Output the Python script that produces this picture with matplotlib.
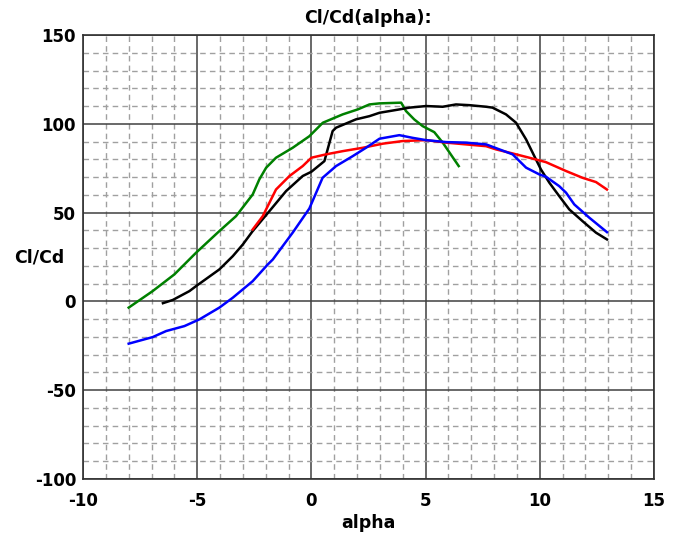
import matplotlib
matplotlib.use("Agg")
import matplotlib.pyplot as plt
from matplotlib.ticker import MultipleLocator

plt.rcParams['font.family'] = ['DejaVu Sans']
plt.rcParams['axes.unicode_minus'] = False

green_x = [-8.0, -6.95, -6.0, -5.05, -4.03, -3.3, -2.57, -2.28, -1.98, -1.55, -0.82, -0.09, 0.5, 1.37, 2.03, 2.54, 2.98, 3.93, 4.14, 4.5, 4.87, 5.38, 5.75, 6.45]
green_y = [-3.5, 5.8, 15.2, 27.4, 39.6, 48.0, 60.2, 68.7, 75.3, 80.9, 86.5, 93.0, 100.6, 105.3, 108.1, 110.9, 111.5, 111.9, 107.2, 102.5, 98.7, 95.3, 89.4, 76.2]

black_x = [-6.5, -6.07, -5.34, -5.05, -4.03, -3.44, -3.0, -2.57, -1.84, -1.11, -0.38, 0.0, 0.57, 0.93, 1.08, 1.95, 2.54, 2.98, 3.85, 4.29, 5.02, 5.75, 6.33, 6.91, 7.65, 7.93, 8.52, 8.96, 9.4, 9.76, 10.05, 10.42, 10.85, 11.29, 11.87, 12.46, 12.94]
black_y = [-1.0, 0.8, 5.8, 8.6, 18.0, 25.5, 32.1, 39.6, 50.8, 62.1, 70.6, 73.0, 79.0, 95.9, 97.8, 102.5, 104.3, 106.2, 108.1, 109.1, 110.0, 109.6, 110.9, 110.5, 109.6, 109.1, 105.3, 100.6, 91.2, 81.8, 74.3, 66.8, 59.3, 51.8, 45.2, 38.7, 34.9]

red_x = [-2.57, -2.13, -1.55, -0.96, -0.38, 0.0, 0.64, 1.37, 2.25, 3.12, 4.0, 5.02, 5.9, 6.77, 7.65, 8.08, 8.81, 9.54, 10.27, 11.15, 11.87, 12.46, 12.94]
red_y = [40.5, 48.0, 63.0, 70.6, 76.2, 80.9, 82.8, 84.6, 86.5, 88.8, 90.3, 90.8, 89.4, 88.4, 87.4, 85.6, 83.3, 80.9, 78.4, 73.4, 69.6, 67.2, 63.0]

blue_x = [-8.0, -6.95, -6.36, -5.56, -4.9, -4.03, -3.44, -2.57, -1.91, -1.69, -0.82, -0.09, 0.49, 1.08, 1.81, 2.39, 2.98, 3.85, 4.43, 5.02, 5.9, 6.77, 7.65, 8.23, 8.81, 9.4, 9.98, 10.27, 10.85, 11.15, 11.51, 12.17, 12.94]
blue_y = [-23.8, -20.1, -16.7, -13.9, -10.1, -3.5, 2.1, 11.4, 20.8, 23.6, 38.7, 52.3, 69.6, 76.2, 81.8, 86.5, 91.6, 93.6, 92.1, 90.8, 89.7, 89.4, 88.4, 85.6, 82.8, 75.3, 71.5, 70.2, 64.9, 61.2, 54.6, 47.1, 39.0]

x_ticks = [-10, -5, 0, 5, 10, 15]
y_ticks = [-100, -50, 0, 50, 100, 150]

fig = plt.figure(figsize=(6.78, 5.35), dpi=100)
ax = fig.add_axes([83/678, 1-479/535, (654-83)/678, (479-35)/535])

ax.set_xlim(-10, 15)
ax.set_ylim(-100, 150)
ax.set_xticks(x_ticks)
ax.set_yticks(y_ticks)
ax.xaxis.set_minor_locator(MultipleLocator(1))
ax.yaxis.set_minor_locator(MultipleLocator(10))
ax.grid(which='major', color='#404040', linestyle='-', linewidth=1.1)
ax.grid(which='minor', color='#a0a0a0', linestyle=(0, (4, 3)), linewidth=1.0)
ax.set_axisbelow(True)
ax.tick_params(which='both', length=0)
ax.tick_params(axis='x', pad=9)
ax.tick_params(axis='y', pad=5)
for lbl in ax.get_xticklabels() + ax.get_yticklabels():
    lbl.set_fontweight('bold')
    lbl.set_fontsize(12)
for sp in ax.spines.values():
    sp.set_color('#303030')
    sp.set_linewidth(1.2)

lw = 1.8
ax.plot(green_x, green_y, color='#008000', lw=lw)
ax.plot(black_x, black_y, color='#000000', lw=lw)
ax.plot(red_x, red_y, color='#ff0000', lw=lw)
ax.plot(blue_x, blue_y, color='#0000ff', lw=lw)

fig.text(368/678, 1-18/535, 'Cl/Cd(alpha):', ha='center', va='center', fontsize=12.5, fontweight='bold')
fig.text(14/678, 1-257/535, 'Cl/Cd', ha='left', va='center', fontsize=12.5, fontweight='bold')
fig.text(368/678, 1-523/535, 'alpha', ha='center', va='center', fontsize=12.5, fontweight='bold')

fig.savefig('out.png', dpi=100)
